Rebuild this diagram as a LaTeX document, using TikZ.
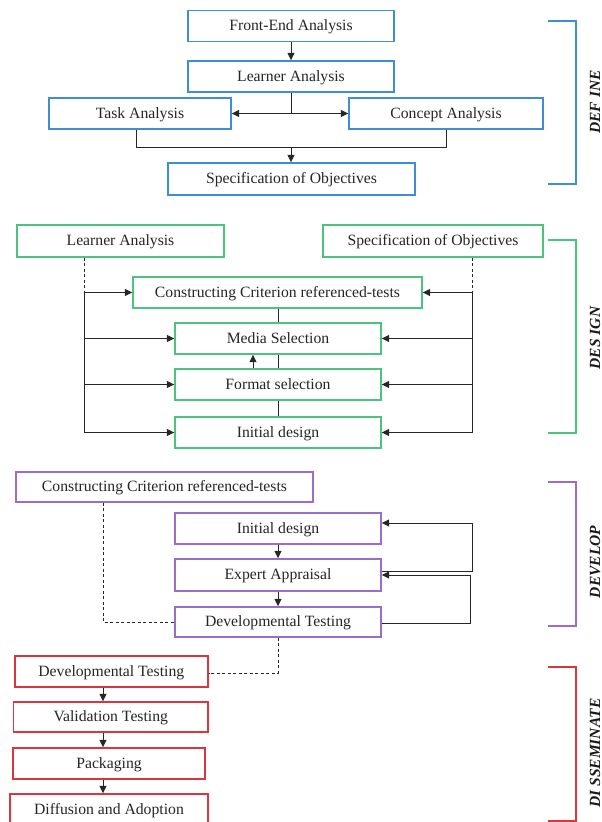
\documentclass[tikz,border=0pt]{standalone}
\usepackage{fontspec}
\setmainfont{Liberation Serif}
\usetikzlibrary{arrows.meta,calc}
\definecolor{cblue}{HTML}{3E8ED6}
\definecolor{cgreen}{HTML}{4CC57C}
\definecolor{cpurple}{HTML}{9A6CCB}
\definecolor{cred}{HTML}{D9363E}
\tikzset{
  box/.style={draw=#1, line width=1.4pt, fill=white, inner sep=0pt, minimum height=31pt,
    text height=11pt, text depth=1.5pt,
    font=\fontsize{15.7}{17}\selectfont, text=black!85},
  conn/.style={line width=1pt, draw=black!85},
  arr/.style={conn, -{Triangle[length=7.5pt,width=7pt]}},
  dashline/.style={conn, dash pattern=on 3pt off 2.5pt},
  brk/.style={line width=1.4pt, draw=#1},
  phase/.style={rotate=90, font=\fontsize{15.5}{17}\selectfont\bfseries\itshape, text=black!90}
}
\begin{document}
\begin{tikzpicture}[x=1pt,y=-1pt]
\useasboundingbox (0,0) rectangle (602,822);
% ---------- DEFINE ----------
\node[box=cblue, minimum width=206pt] (fe) at (291,26) {Front-End Analysis};
\node[box=cblue, minimum width=206pt] (la1) at (291,76.5) {Learner Analysis};
\node[box=cblue, minimum width=182pt] (ta) at (140,113.5) {Task Analysis};
\node[box=cblue, minimum width=194pt] (ca) at (446,113.5) {Concept Analysis};
\node[box=cblue, minimum width=247pt, minimum height=32pt] (so1) at (291.5,179) {Specification of Objectives};
\coordinate (j1) at (291,113.5);
\coordinate (j2) at (291,147);
\draw[arr] (fe.south) -- (la1.north);
\draw[conn] (la1.south) -- (j1);
\draw[arr] (j1) -- (ta.east);
\draw[arr] (j1) -- (ca.west);
\draw[conn] ($(ta.south)+(-4,0)$) |- (j2);
\draw[conn] (ca.south) |- (j2);
\draw[arr] (j2) -- (j2 |- so1.north);
\draw[brk=cblue] (548,21) -- (576,21) -- (576,184) -- (548,184);
\node[phase] (p1) at (595,102) {DEF INE};
% ---------- DESIGN ----------
\node[box=cgreen, minimum width=207pt, minimum height=32pt] (la2) at (120.5,241) {Learner Analysis};
\node[box=cgreen, minimum width=220pt, minimum height=32pt] (so2) at (433,241) {Specification of Objectives};
\node[box=cgreen, minimum width=289pt] (cc2) at (277.5,292.5) {Constructing Criterion referenced-tests};
\node[box=cgreen, minimum width=206pt] (ms) at (278,338.5) {Media Selection};
\node[box=cgreen, minimum width=206pt] (fs) at (278,384.5) {Format selection};
\node[box=cgreen, minimum width=206pt] (id2) at (278,432.5) {Initial design};
\coordinate (lt) at (84,292.5);
\coordinate (lb) at (84,432.5);
\coordinate (rt) at (472,292.5);
\coordinate (rb) at (472,432.5);
\draw[dashline] (la2.south -| lt) -- (lt);
\draw[dashline] (so2.south -| rt) -- (rt);
\draw[conn] (lt) -- (lb);
\draw[conn] (rt) -- (rb);
\draw[arr] (lt) -- (cc2.west);
\draw[arr] (lt |- ms) -- (ms.west);
\draw[arr] (lt |- fs) -- (fs.west);
\draw[arr] (lb) -- (id2.west);
\draw[arr] (rt) -- (cc2.east);
\draw[arr] (rt |- ms) -- (ms.east);
\draw[arr] (rt |- fs) -- (fs.east);
\draw[arr] (rb) -- (id2.east);
\draw[conn] (cc2.south -| ms) -- (ms.north);
\draw[conn] (ms.south) -- (fs.north);
\draw[arr] ($(fs.north)+(-25,0)$) -- ($(ms.south)+(-25,0)$);
\draw[conn] (fs.south) -- (id2.north);
\draw[brk=cgreen] (548,240) -- (576,240) -- (576,433) -- (548,433);
\node[phase] (p2) at (595,338) {DES IGN};
% ---------- DEVELOP ----------
\node[box=cpurple, minimum width=297pt, minimum height=30pt] (cc3) at (164.5,487) {Constructing Criterion referenced-tests};
\node[box=cpurple, minimum width=206pt] (id3) at (278,528.5) {Initial design};
\node[box=cpurple, minimum width=206pt, minimum height=32pt] (ea) at (278,575) {Expert Appraisal};
\node[box=cpurple, minimum width=206pt, minimum height=30pt] (dt3) at (278,622) {Developmental Testing};
\draw[arr] (id3.south) -- (ea.north);
\draw[arr] (ea.south) -- (dt3.north);
\coordinate (dc) at (103,622);
\draw[dashline] (cc3.south -| dc) -- (dc) -- (dt3.west);
\coordinate (f1a) at (472,571);
\coordinate (f1b) at (472,523);
\draw[arr] (ea.east |- f1a) -- (f1a) -- (f1b) -- (id3.east |- f1b);
\coordinate (f2a) at (470,623);
\coordinate (f2b) at (470,575);
\draw[arr] (dt3.east |- f2a) -- (f2a) -- (f2b) -- (ea.east |- f2b);
\draw[brk=cpurple] (548,482) -- (576,482) -- (576,626) -- (548,626);
\node[phase] (p3) at (595,562) {DEVELOP};
% ---------- DISSEMINATE ----------
\node[box=cred, minimum width=193pt] (dt4) at (111.3,671.5) {Developmental Testing};
\node[box=cred, minimum width=194.5pt, minimum height=30pt] (vt) at (110.75,717) {Validation Testing};
\node[box=cred, minimum width=192pt] (pk) at (109,763.5) {Packaging};
\node[box=cred, minimum width=198pt, minimum height=32pt] (da) at (109,810) {Diffusion and Adoption};
\coordinate (dd) at (278,673);
\coordinate (ax) at (103,0);
\draw[dashline] (dt3.south) -- (dd) -- (dt4.east |- dd);
\draw[arr] (dt4.south -| ax) -- (vt.north -| ax);
\draw[arr] (vt.south -| ax) -- (pk.north -| ax);
\draw[arr] (pk.south -| ax) -- (da.north -| ax);
\draw[brk=cred] (548,667) -- (576,667) -- (576,821) -- (548,821);
\node[phase] (p4) at (595,753) {DI SSEMINATE};
\end{tikzpicture}
\end{document}
